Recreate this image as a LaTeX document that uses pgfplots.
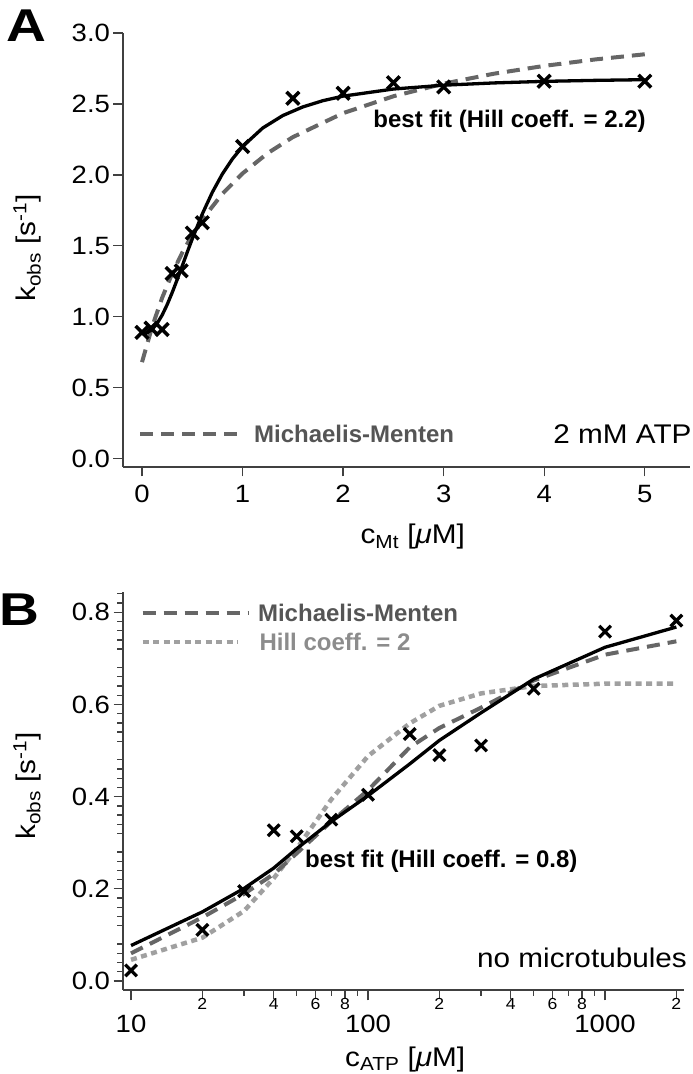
\documentclass[border=0pt]{standalone}
\usepackage{fontspec}
\setmainfont{Liberation Sans}[FakeStretch=1.1]
\newfontfamily\bfont{Liberation Sans Bold}
\newfontfamily\pfont{Liberation Sans Bold}[FakeStretch=1.2]
\usepackage{pgfplots}
\pgfplotsset{compat=1.18}
\definecolor{mmgray}{HTML}{666666}
\definecolor{mmtext}{HTML}{555555}
\definecolor{hillgray}{HTML}{A0A0A0}
\definecolor{hilltext}{HTML}{8C8C8C}
\definecolor{axgray}{HTML}{404040}
\pgfplotsset{
  igor/.style={
    scale only axis, clip=false,
    axis x line*=bottom, axis y line*=left,
    axis line style={-, axgray, line width=1.3pt},
    tick style={axgray, line width=1.3pt},
    tick align=outside,
    major tick length=9.5pt, minor tick length=5pt,
    tick label style={font=\fontsize{25}{25}\selectfont},
    /pgf/number format/assume math mode=true,
    yticklabel style={/pgf/number format/fixed, /pgf/number format/fixed zerofill, /pgf/number format/precision=1},
    label style={font=\fontsize{27}{27}\selectfont},
  },
  mmline/.style={mmgray, line width=4pt, dash pattern=on 13pt off 8pt},
  hillline/.style={hillgray, line width=4.5pt, dash pattern=on 6pt off 4.5pt},
  fitline/.style={black, line width=3.3pt},
}
\newcommand\ann{\bfont\fontsize{24}{24}\selectfont}
\begin{document}
\begin{tikzpicture}
\path[use as bounding box] (0,0) rectangle (693pt,1074pt);
\node[font=\pfont\fontsize{46}{46}\selectfont, inner sep=0pt] at (26.5pt,1048pt) {A};
\node[font=\pfont\fontsize{46}{46}\selectfont, inner sep=0pt] at (19pt,464pt) {B};

% ---------------- Panel A ----------------
\begin{axis}[igor, at={(123pt,607pt)}, anchor=south west,
  width=567pt, height=434pt,
  xmin=-0.189, xmax=5.45, ymin=-0.059, ymax=3.0,
  xtick={0,1,2,3,4,5}, ytick={0,0.5,1,1.5,2,2.5,3},
  xticklabel style={yshift=-5pt},
  xlabel={c\textsubscript{Mt} [\textit{μ}M]},
  ylabel={k\textsubscript{obs} [s\textsuperscript{-1}]},
  xlabel style={at={(axis description cs:0.511,-0.177)}, anchor=base},
  ylabel style={at={(axis description cs:-0.169,0.505)}, anchor=center},
]
\addplot[mmline] coordinates {
(0,0.680) (0.1,0.928) (0.2,1.133) (0.3,1.305) (0.4,1.451) (0.5,1.576) (0.6,1.686)
(0.8,1.867) (1.0,2.010) (1.25,2.153) (1.5,2.266) (2.0,2.435) (2.5,2.554) (3.0,2.643)
(3.5,2.713) (4.0,2.768) (4.5,2.813) (5.0,2.850)};
\addplot[fitline] coordinates {
(0,0.880) (0.05,0.887) (0.1,0.910) (0.15,0.952) (0.2,1.011) (0.25,1.085) (0.3,1.170)
(0.35,1.262) (0.4,1.358) (0.45,1.455) (0.5,1.549) (0.6,1.725) (0.7,1.878) (0.8,2.007)
(0.9,2.113) (1.0,2.200) (1.2,2.330) (1.4,2.418) (1.6,2.479) (1.8,2.523) (2.0,2.555)
(2.5,2.605) (3.0,2.632) (3.5,2.648) (4.0,2.659) (4.5,2.666) (5.0,2.671)};
\addplot[only marks, mark=x, mark size=9pt, mark options={black, line width=3.5pt}] coordinates {
(0,0.89) (0.09,0.92) (0.2,0.91) (0.3,1.305) (0.39,1.324) (0.5,1.59) (0.6,1.663)
(1.0,2.20) (1.5,2.54) (2.0,2.575) (2.5,2.65) (3.0,2.62) (4.0,2.66) (5.0,2.66)};
\addplot[mmline] coordinates {(-0.015,0.176) (1.025,0.176)};
\node[font=\ann, text=mmtext, anchor=west, inner sep=0pt] at (axis cs:1.113,0.176) {Michaelis-Menten};
\node[font=\fontsize{27}{27}\selectfont, anchor=east, inner sep=0pt] at (axis cs:5.467,0.171) {2 mM ATP};
\node[font=\ann, anchor=west, inner sep=0pt] at (axis cs:2.30,2.375) {best fit (Hill coeff. = 2.2)};
\end{axis}

% ---------------- Panel B ----------------
\begin{axis}[igor, at={(123pt,84pt)}, anchor=south west,
  width=561pt, height=398pt,
  xmode=log, log basis x=10,
  xmin=9.25, xmax=2154, ymin=-0.0195, ymax=0.844,
  xtick={20,40,60,80,200,400,600,800,2000},
  xticklabels={2,4,6,8,2,4,6,8,2},
  xticklabel style={font=\fontsize{16}{16}\selectfont, yshift=5pt},
  minor xtick={30,50,70,90,300,500,700,900},
  extra x ticks={10,100,1000},
  extra x tick labels={10,100,1000},
  extra x tick style={major tick length=10.5pt, xticklabel style={font=\fontsize{25}{25}\selectfont, yshift=-16pt}},
  minor tick length=6pt,
  ytick={0,0.2,0.4,0.6,0.8},
  yticklabel style={font=\fontsize{25}{25}\selectfont},
  minor ytick={0.02,0.04,0.06,0.08,0.12,0.14,0.16,0.18,0.22,0.24,0.26,0.28,0.32,0.34,0.36,0.38,0.42,0.44,0.46,0.48,0.52,0.54,0.56,0.58,0.62,0.64,0.66,0.68,0.72,0.74,0.76,0.78,0.82,0.84},
  xlabel={c\textsubscript{ATP} [\textit{μ}M]},
  ylabel={k\textsubscript{obs} [s\textsuperscript{-1}]},
  xlabel style={at={(axis description cs:0.503,-0.191)}, anchor=base},
  ylabel style={at={(axis description cs:-0.171,0.513)}, anchor=center},
]
\addplot[hillline] coordinates {
(10,0.046) (20,0.094) (30,0.152) (40,0.223) (50,0.287) (70,0.394) (100,0.488)
(150,0.559) (200,0.597) (300,0.624) (500,0.640) (1000,0.645) (2000,0.645)};
\addplot[mmline] coordinates {
(10,0.060) (20,0.138) (30,0.189) (40,0.232) (50,0.277) (70,0.346) (100,0.414)
(150,0.507) (200,0.549) (300,0.593) (500,0.652) (1000,0.708) (2000,0.737)};
\addplot[fitline] coordinates {
(10,0.077) (20,0.150) (30,0.201) (40,0.245) (50,0.287) (70,0.346) (100,0.402)
(150,0.471) (200,0.522) (300,0.582) (500,0.655) (1000,0.724) (2000,0.768)};
\addplot[only marks, mark=x, mark size=8.2pt, mark options={black, line width=3.3pt}] coordinates {
(10,0.023) (20,0.111) (30,0.195) (40,0.327) (50,0.314) (70,0.350) (100,0.404)
(150,0.536) (200,0.490) (300,0.511) (500,0.634) (1000,0.758) (2000,0.782)};
\addplot[mmline] coordinates {(11.19,0.799) (31.4,0.799)};
\addplot[hillline] coordinates {(11.19,0.735) (28.2,0.735)};
\node[font=\ann, text=mmtext, anchor=west, inner sep=0pt] at (axis cs:34.3,0.799) {Michaelis-Menten};
\node[font=\ann, text=hilltext, anchor=west, inner sep=0pt] at (axis cs:34.8,0.735) {Hill coeff. = 2};
\node[font=\ann, anchor=west, inner sep=0pt] at (axis cs:54.2,0.259) {best fit (Hill coeff. = 0.8)};
\node[font=\fontsize{27}{27}\selectfont, anchor=east, inner sep=0pt] at (axis cs:2218,0.05) {no microtubules};
\end{axis}
\end{tikzpicture}
\end{document}
